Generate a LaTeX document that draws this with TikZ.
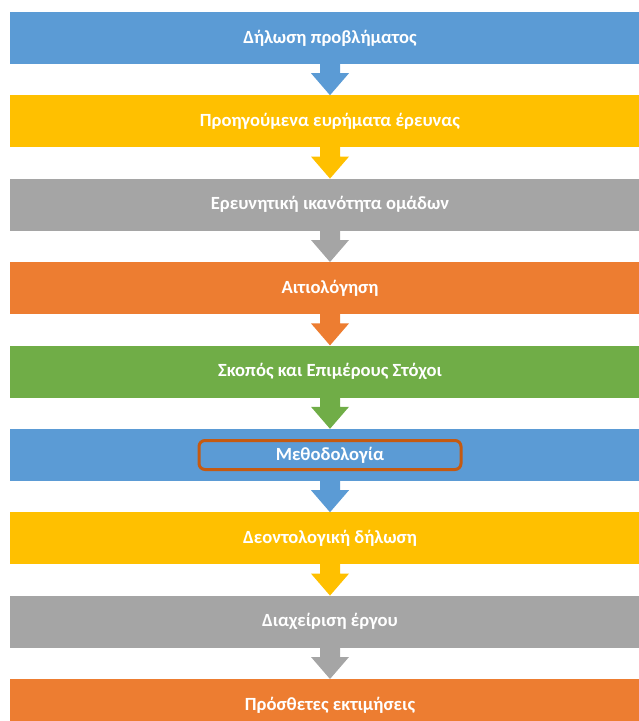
\documentclass[tikz,border=0pt]{standalone}
\usepackage{fontspec}
\setmainfont{Carlito}
\usepackage{xcolor}
\usepackage{tikz}
\usetikzlibrary{positioning}

\definecolor{barblue}{HTML}{5B9BD5}
\definecolor{baryellow}{HTML}{FFC000}
\definecolor{bargray}{HTML}{A5A5A5}
\definecolor{barorange}{HTML}{ED7D31}
\definecolor{bargreen}{HTML}{70AD47}
\definecolor{boxrim}{HTML}{C55A11}

\tikzset{
	x=1pt, y=1pt, % one unit is one pixel of the reference
	node distance=31pt, % gap between two bars
	bar/.style={minimum width=640pt, minimum height=52pt, inner sep=0pt, text=white, font=\fontsize{18.6}{20}\selectfont\bfseries}, % sets the look of each stage
	highlight/.style={draw=boxrim, line width=3pt, rounded corners=6pt, minimum width=262pt, minimum height=29pt, inner sep=0pt, text=white, font=\fontsize{18.6}{20}\selectfont\bfseries}, % frame round one stage title
}

% block arrow from the bottom of one bar to the top of the next
\newcommand{\stagearrow}[3]{
	\fill[#3] ([xshift=-10pt,yshift=0.5pt]#1.south) -- ([xshift=-10pt,yshift=-9pt]#1.south)
	-- ([xshift=-19pt,yshift=-9pt]#1.south) -- (#2.north)
	-- ([xshift=19pt,yshift=-9pt]#1.south) -- ([xshift=10pt,yshift=-9pt]#1.south)
	-- ([xshift=10pt,yshift=0.5pt]#1.south) -- cycle;
}

\begin{document}
\begin{tikzpicture}
	\useasboundingbox (0,0) rectangle (639,-721);
	\clip (0,0) rectangle (639,-721);

	% Define stages
	\node[bar, fill=barblue] (s1) at (330,-38) {Δήλωση προβλήματος};
	\node[bar, fill=baryellow, below=of s1] (s2) {Προηγούμενα ευρήματα έρευνας};
	\node[bar, fill=bargray, below=of s2] (s3) {Ερευνητική ικανότητα ομάδων};
	\node[bar, fill=barorange, below=of s3] (s4) {Αιτιολόγηση};
	\node[bar, fill=bargreen, below=of s4] (s5) {Σκοπός και Επιμέρους Στόχοι};
	\node[bar, fill=barblue, below=of s5] (s6) {};
	\node[highlight] (method) at (s6.center) {Μεθοδολογία};
	\node[bar, fill=baryellow, below=of s6] (s7) {Δεοντολογική δήλωση};
	\node[bar, fill=bargray, below=of s7] (s8) {Διαχείριση έργου};
	\node[bar, fill=barorange, below=of s8] (s9) {Πρόσθετες εκτιμήσεις};

	% Arrows
	\stagearrow{s1}{s2}{barblue}
	\stagearrow{s2}{s3}{baryellow}
	\stagearrow{s3}{s4}{bargray}
	\stagearrow{s4}{s5}{barorange}
	\stagearrow{s5}{s6}{bargreen}
	\stagearrow{s6}{s7}{barblue}
	\stagearrow{s7}{s8}{baryellow}
	\stagearrow{s8}{s9}{bargray}
\end{tikzpicture}
\end{document}
